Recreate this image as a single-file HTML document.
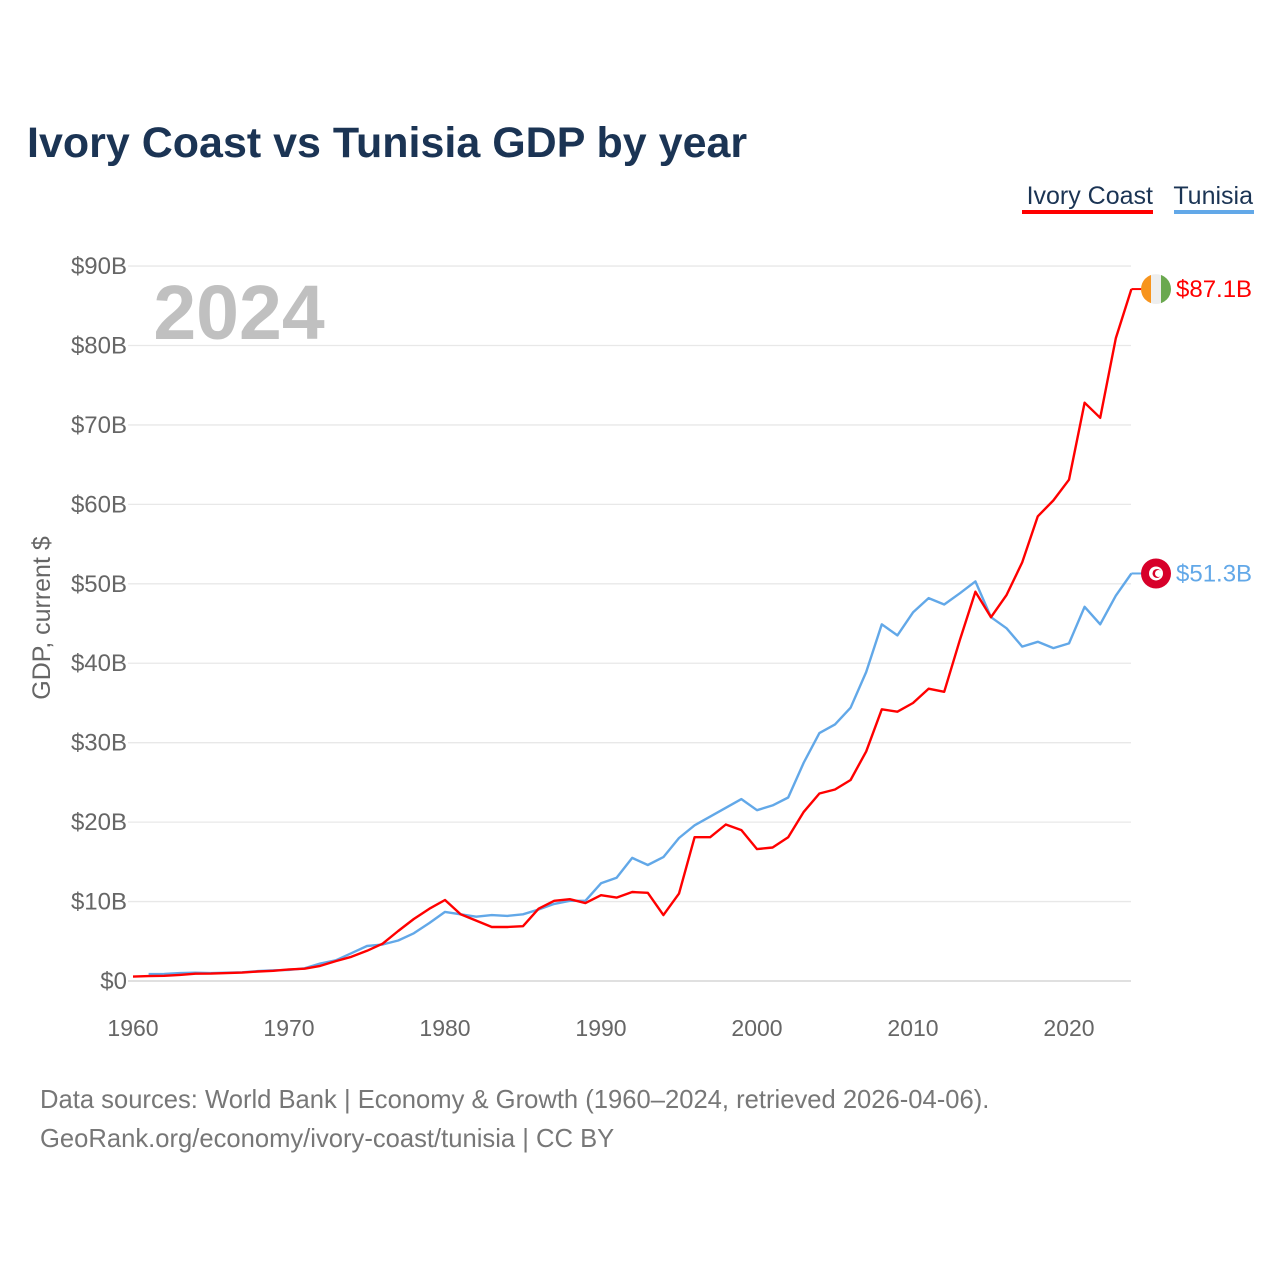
<!DOCTYPE html>
<html><head><meta charset="utf-8"><style>
body{margin:0;background:#fff;}
svg{display:block;font-family:"Liberation Sans",sans-serif;}
</style></head><body>
<svg id="chart" width="1280" height="1280" viewBox="0 0 1280 1280">
<text x="27" y="157" font-size="43" font-weight="bold" fill="#1b3454">Ivory Coast vs Tunisia GDP by year</text>
<g>
<text x="1153" y="204" font-size="25" fill="#1b3454" text-anchor="end">Ivory Coast</text>
<rect x="1022" y="210" width="131" height="4" fill="#ff0000"/>
<text x="1253" y="204" font-size="25" fill="#1b3454" text-anchor="end">Tunisia</text>
<rect x="1174" y="210" width="80" height="4" fill="#62a8e8"/>
</g>
<text x="239" y="339" font-size="77" font-weight="bold" fill="#c0c0c0" text-anchor="middle">2024</text>
<text transform="translate(50,618) rotate(-90)" font-size="25" fill="#666" text-anchor="middle">GDP, current $</text>
<g id="grid"></g><g id="lines"></g><g id="ends"></g>
<text x="40" y="1108" font-size="25.6" fill="#777">Data sources: World Bank | Economy &amp; Growth (1960–2024, retrieved 2026-04-06).</text>
<text x="40" y="1147" font-size="25.6" fill="#777">GeoRank.org/economy/ivory-coast/tunisia | CC BY</text>
</svg>
<script>
const yTicks=[0,10,20,30,40,50,60,70,80,90];
const yTickLabels=["$0","$10B","$20B","$30B","$40B","$50B","$60B","$70B","$80B","$90B"];
const xTicks=[1960,1970,1980,1990,2000,2010,2020];
const ivoryStart=1960;
const ivoryCoast=[0.55,0.62,0.65,0.77,0.92,0.93,1.0,1.06,1.2,1.29,1.46,1.55,1.9,2.5,3.05,3.8,4.7,6.3,7.8,9.1,10.2,8.4,7.6,6.8,6.8,6.9,9.1,10.1,10.3,9.8,10.8,10.5,11.2,11.1,8.3,11.0,18.1,18.1,19.7,19.0,16.6,16.8,18.1,21.3,23.6,24.1,25.3,28.9,34.2,33.9,35.0,36.8,36.4,42.9,49.0,45.8,48.6,52.7,58.5,60.5,63.1,72.8,70.9,80.9,87.1];
const tunisiaStart=1961;
const tunisia=[0.87,0.88,1.0,1.05,1.0,1.05,1.1,1.25,1.35,1.4,1.6,2.2,2.6,3.5,4.4,4.6,5.1,6.0,7.3,8.7,8.4,8.1,8.3,8.2,8.4,9.0,9.7,10.1,10.1,12.3,13.0,15.5,14.6,15.6,18.0,19.6,20.7,21.8,22.9,21.5,22.1,23.1,27.5,31.2,32.3,34.4,38.9,44.9,43.5,46.4,48.2,47.4,48.8,50.3,45.8,44.4,42.1,42.7,41.9,42.5,47.1,44.9,48.5,51.3];
const NS="http://www.w3.org/2000/svg";
const X=y=>133+(y-1960)*15.6;
const Y=v=>981-v*7.944;
function mk(tag,attrs,parent){const e=document.createElementNS(NS,tag);for(const k in attrs)e.setAttribute(k,attrs[k]);parent.appendChild(e);return e;}
const grid=document.getElementById('grid'),lines=document.getElementById('lines'),ends=document.getElementById('ends');
yTicks.forEach((t,i)=>{
 const l=mk('line',{x1:128,x2:1131,y1:Y(t),y2:Y(t),stroke:t===0?'#e0e0e0':'#e8e8e8','stroke-width':t===0?2:1.3},grid);
 
 
 const tx=mk('text',{x:127,y:Y(t)+8,'font-size':24,fill:'#666','text-anchor':'end'},grid);
 tx.textContent=yTickLabels[i];
 
 
});
xTicks.forEach(t=>{
 const tx=mk('text',{x:X(t),y:1036,'font-size':23,fill:'#666','text-anchor':'middle'},grid);
 tx.textContent=t;
 
 
});
function series(vals,start,color,name){
 const d=vals.map((v,i)=>(i?'L':'M')+X(start+i).toFixed(1)+','+Y(v).toFixed(1)).join('');
 const p=mk('path',{d:d,fill:'none',stroke:color,'stroke-width':2.4,'stroke-linejoin':'round'},lines);
 
 
}
series(tunisia,tunisiaStart,'#62a8e8','tunisia-line');
series(ivoryCoast,ivoryStart,'#ff0000','ivory-coast-line');
function endMark(vals,start,color,name,flag){
 const v=vals[vals.length-1],yy=Y(v),cx=1156;
 const ln=mk('line',{x1:X(start+vals.length-1),x2:cx-14,y1:yy,y2:yy,stroke:color,'stroke-width':2},ends);
 
 
 const g=mk('g',{},ends);
 
 
 flag(g,cx,yy);
 const t=mk('text',{x:1176,y:yy+8,'font-size':24,fill:color},ends);
 t.textContent='$'+v.toFixed(1)+'B';
 
 
}
endMark(ivoryCoast,ivoryStart,'#ff0000','ivory-coast',(g,cx,cy)=>{
 const id='clipIC';const cp=mk('clipPath',{id:id},g);mk('circle',{cx:cx,cy:cy,r:15},cp);
 mk('rect',{x:cx-15,y:cy-15,width:10,height:30,fill:'#f7941d','clip-path':'url(#'+id+')'},g);
 mk('rect',{x:cx-5,y:cy-15,width:10,height:30,fill:'#eeeeee','clip-path':'url(#'+id+')'},g);
 mk('rect',{x:cx+5,y:cy-15,width:10,height:30,fill:'#6aa84f','clip-path':'url(#'+id+')'},g);
});
endMark(tunisia,tunisiaStart,'#62a8e8','tunisia',(g,cx,cy)=>{
 mk('circle',{cx:cx,cy:cy,r:15,fill:'#d7002a'},g);
 mk('circle',{cx:cx,cy:cy,r:7,fill:'#fff'},g);
 mk('circle',{cx:cx+1,cy:cy,r:4.5,fill:'#d7002a'},g);
 mk('circle',{cx:cx+2.5,cy:cy,r:3.5,fill:'#fff'},g);
});
</script>
</body></html>
